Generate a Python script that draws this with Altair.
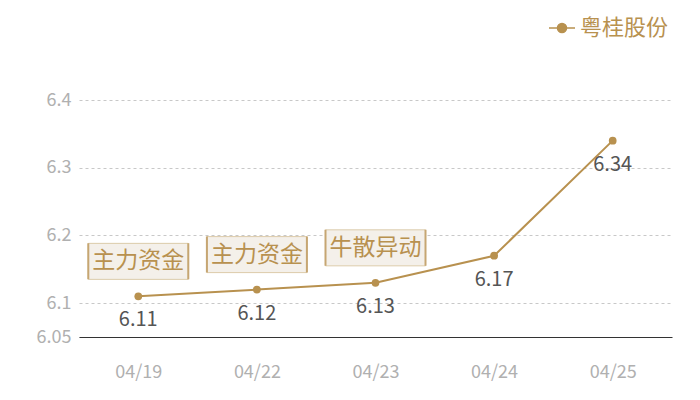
import altair as alt
import pandas as pd

dates = ["04/19", "04/22", "04/23", "04/24", "04/25"]
values = [6.11, 6.12, 6.13, 6.17, 6.34]
notes = ["主力资金", "主力资金", "牛散异动", "", ""]
series_name = "粤桂股份"
y_ticks = [6.05, 6.1, 6.2, 6.3, 6.4]

GOLD = "#b8914f"
FONT = "Noto Sans CJK SC"

df = pd.DataFrame({"date": dates, "value": values, "note": notes, "series": [series_name] * len(dates)})

x = alt.X("date:N", sort=dates, title=None,
          scale=alt.Scale(type="point", padding=0.5),
          axis=alt.Axis(labelAngle=0, labelColor="#b0b0b0", labelFontSize=18, labelFont=FONT,
                        ticks=False, domainColor="#333333", domainWidth=1, labelPadding=26, grid=False))
y = alt.Y("value:Q", title=None,
          scale=alt.Scale(domain=[6.05, 6.4], zero=False, nice=False),
          axis=alt.Axis(values=y_ticks, format="~g", labelColor="#b0b0b0", labelFontSize=18, labelFont=FONT,
                        ticks=False, domain=False, labelPadding=8, grid=True,
                        gridColor="#c8c8c8", gridDash=[3, 3], gridWidth=1))

base = alt.Chart(df)

line = base.mark_line(color=GOLD, strokeWidth=2).encode(x=x, y=y)

pts = base.mark_point(filled=True, size=60, opacity=1).encode(
    x=x, y=y,
    color=alt.Color("series:N", title=None,
                    scale=alt.Scale(domain=[series_name], range=[GOLD]),
                    legend=alt.Legend(orient="none", legendX=469, legendY=-86,
                                      symbolType="M-1,0L1,0M-0.35,0A0.35,0.35 0 1,1 0.35,0A0.35,0.35 0 1,1 -0.35,0Z",
                                      symbolSize=676, symbolStrokeColor=GOLD, symbolStrokeWidth=1.5,
                                      symbolFillColor=GOLD, labelColor=GOLD, labelFontSize=22,
                                      labelFont=FONT, labelOffset=4)))

ann = base.transform_filter("datum.note != ''")
box = ann.mark_point(shape="M-1,-1.06L1,-1.06L1,-0.34L-1,-0.34Z", size=10000, filled=True,
                     fill="#f4f0ea", stroke="#dccbaa", strokeWidth=1, opacity=1).encode(x=x, y=y)
sides = ann.mark_point(shape="M-1,-1.06L-1,-0.34M1,-1.06L1,-0.34", size=10000, filled=False,
                       stroke="#c6a672", strokeWidth=2, opacity=1).encode(x=x, y=y)
ann_text = ann.mark_text(dy=-35, baseline="middle", fontSize=23, font=FONT, color=GOLD).encode(
    x=x, y=y, text="note:N")

labels = base.mark_text(dy=24, baseline="middle", fontSize=20, font=FONT, color="#555555").encode(
    x=x, y=y, text=alt.Text("value:Q", format=".2f"))

chart = alt.layer(line, pts, box, sides, ann_text, labels).properties(
    width=593, height=237,
    autosize=alt.AutoSizeParams(type="none"),
    padding={"left": 71, "top": 92, "right": 20, "bottom": 55},
).configure_view(stroke=None)

chart.save("out.html", embed_options={"renderer": "svg", "actions": False})
